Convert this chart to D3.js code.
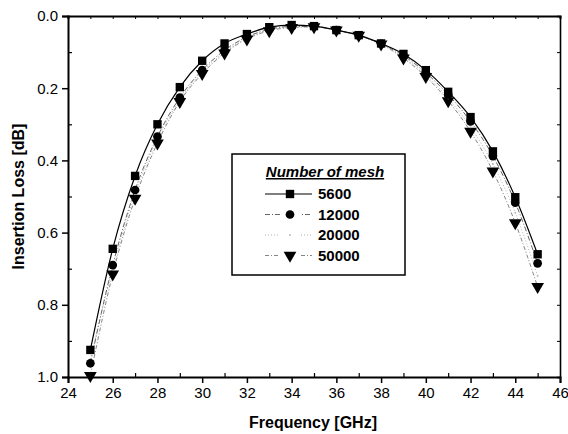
<!DOCTYPE html>
<html>
<head>
<meta charset="utf-8">
<script src="https://cdn.jsdelivr.net/npm/d3@7"></script>
<style>
  body { margin: 0; background: #fff; }
  text { font-family: Arial, "Liberation Sans", sans-serif; }
</style>
</head>
<body>
<div class="graphContainer"></div>
<script>
var width = 568;
var height = 434;

// data
var freq = [25, 26, 27, 28, 29, 30, 31, 32, 33, 34, 35, 36, 37, 38, 39, 40, 41, 42, 43, 44, 45];
var mesh5600 = [0.925, 0.645, 0.443, 0.300, 0.197, 0.124, 0.076, 0.050, 0.031, 0.025, 0.028, 0.039, 0.053, 0.076, 0.105, 0.150, 0.210, 0.280, 0.375, 0.502, 0.660];
var mesh12000 = [0.962, 0.690, 0.482, 0.334, 0.226, 0.150, 0.095, 0.058, 0.037, 0.029, 0.029, 0.039, 0.054, 0.077, 0.110, 0.157, 0.218, 0.292, 0.388, 0.517, 0.685];
var mesh20000 = [0.950, 0.700, 0.492, 0.342, 0.232, 0.155, 0.100, 0.061, 0.039, 0.031, 0.030, 0.039, 0.054, 0.078, 0.114, 0.163, 0.228, 0.308, 0.410, 0.545, 0.720];
var mesh50000 = [0.996, 0.715, 0.505, 0.352, 0.237, 0.160, 0.103, 0.064, 0.041, 0.032, 0.030, 0.039, 0.054, 0.078, 0.117, 0.168, 0.235, 0.320, 0.430, 0.573, 0.750];
var legendLabels = ["5600", "12000", "20000", "50000"];
var xTicks = [24, 26, 28, 30, 32, 34, 36, 38, 40, 42, 44, 46];
var yTicks = [0.0, 0.2, 0.4, 0.6, 0.8, 1.0];

var series = [
  { name: legendLabels[0], values: mesh5600, symbol: d3.symbolSquare, size: 70, color: "#000", dash: null, lineColor: "#000", lw: 1.2 },
  { name: legendLabels[1], values: mesh12000, symbol: d3.symbolCircle, size: 60, color: "#000", dash: "5,2,1,2", lineColor: "#555", lw: 0.9 },
  { name: legendLabels[2], values: mesh20000, symbol: d3.symbolCircle, size: 3, color: "#bbb", dash: "1,2", lineColor: "#aaa", lw: 0.9 },
  { name: legendLabels[3], values: mesh50000, symbol: d3.symbolTriangle, size: 70, color: "#000", dash: "4,2,1,2", lineColor: "#777", lw: 0.9, flip: true }
];

var svg = d3.select(".graphContainer")
  .append("svg")
  .attr("width", width)
  .attr("height", height);

var plotLeft = 68, plotRight = 560, plotTop = 16, plotBottom = 377;

var xScale = d3.scaleLinear().domain([24, 46]).range([plotLeft, plotRight]);
var yScale = d3.scaleLinear().domain([0, 1]).range([plotTop, plotBottom]);

// x axis
var xAxis = d3.axisBottom(xScale).tickValues(xTicks).tickFormat(d3.format("d")).tickSize(6).tickPadding(4);
var xg = svg.append("g").attr("transform", "translate(0," + plotBottom + ")").call(xAxis);
xg.select(".domain").attr("stroke-width", 2);
xg.selectAll(".tick line").attr("stroke-width", 1.5);
xg.selectAll("text").style("font-size", "15px").attr("fill", "#000");

var xMinor = d3.axisBottom(xScale).tickValues(d3.range(25, 46, 2)).tickFormat("").tickSize(-4);
var xm = svg.append("g").attr("transform", "translate(0," + plotBottom + ")").call(xMinor);
xm.select(".domain").remove();
xm.selectAll(".tick line").attr("stroke-width", 1.2);

// y axis
var yAxis = d3.axisLeft(yScale).tickValues(yTicks).tickFormat(d3.format(".1f")).tickSize(6).tickPadding(4);
var yg = svg.append("g").attr("transform", "translate(" + plotLeft + ",0)").call(yAxis);
yg.select(".domain").attr("stroke-width", 2);
yg.selectAll(".tick line").attr("stroke-width", 1.5);
yg.selectAll("text").style("font-size", "15px").attr("fill", "#000");

var yMinor = d3.axisLeft(yScale).tickValues(d3.range(0.1, 1, 0.2)).tickFormat("").tickSize(-4);
var ym = svg.append("g").attr("transform", "translate(" + plotLeft + ",0)").call(yMinor);
ym.select(".domain").remove();
ym.selectAll(".tick line").attr("stroke-width", 1.2);

// frame top and right
var topAxis = d3.axisTop(xScale).tickValues(d3.range(24, 47, 1)).tickFormat("").tickSize(-3);
var tg = svg.append("g").attr("transform", "translate(0," + plotTop + ")").call(topAxis);
tg.select(".domain").attr("stroke-width", 2);
tg.selectAll(".tick line").attr("stroke-width", 1);

var rightAxis = d3.axisRight(yScale).tickValues(d3.range(0, 1.01, 0.1)).tickFormat("").tickSize(-3);
var rg = svg.append("g").attr("transform", "translate(" + plotRight + ",0)").call(rightAxis);
rg.select(".domain").attr("stroke-width", 1.6);
rg.selectAll(".tick line").attr("stroke-width", 1);

// axis titles
svg.append("text")
  .attr("x", 313)
  .attr("y", 428)
  .attr("text-anchor", "middle")
  .style("font-size", "16px")
  .style("font-weight", "bold")
  .text("Frequency [GHz]");

svg.append("text")
  .attr("transform", "translate(24," + (plotTop + plotBottom) / 2 + ") rotate(-90)")
  .attr("text-anchor", "middle")
  .style("font-size", "16px")
  .style("font-weight", "bold")
  .text("Insertion Loss [dB]");

// curves
var line = d3.line()
  .x((d, i) => xScale(freq[i]))
  .y((d) => yScale(d))
  .curve(d3.curveMonotoneX);

var plot = svg.append("g");

series.slice().reverse().forEach(function (s) {
  plot.append("path")
    .datum(s.values)
    .attr("d", line)
    .attr("fill", "none")
    .attr("stroke", s.lineColor)
    .attr("stroke-width", s.lw)
    .attr("stroke-dasharray", s.dash);
});

series.slice().reverse().forEach(function (s) {
  plot.selectAll(null)
    .data(s.values)
    .enter()
    .append("path")
    .attr("d", d3.symbol().type(s.symbol).size(s.size))
    .attr("transform", (d, i) => "translate(" + xScale(freq[i]) + "," + yScale(d) + ")" + (s.flip ? " rotate(180)" : ""))
    .attr("fill", s.color);
});

// legend
var legend = svg.append("g").attr("id", "legend");
legend.append("rect")
  .attr("x", 232)
  .attr("y", 154)
  .attr("width", 173)
  .attr("height", 121)
  .attr("fill", "#fff")
  .attr("stroke", "#000")
  .attr("stroke-width", 1.5);

legend.append("text")
  .attr("x", 325)
  .attr("y", 177)
  .attr("text-anchor", "middle")
  .style("font-size", "15px")
  .style("font-weight", "bold")
  .style("font-style", "italic")
  .style("text-decoration", "underline")
  .text("Number of mesh");

series.forEach(function (s, i) {
  var ly = 194 + i * 20.5;
  legend.append("line")
    .attr("x1", 265).attr("x2", 312)
    .attr("y1", ly).attr("y2", ly)
    .attr("stroke", s.lineColor)
    .attr("stroke-width", s.lw)
    .attr("stroke-dasharray", s.dash);
  legend.append("rect")
    .attr("x", 280).attr("y", ly - 6)
    .attr("width", 20).attr("height", 12)
    .attr("fill", "#fff")
    .attr("opacity", s.dash ? 1 : 0);
  legend.append("path")
    .attr("d", d3.symbol().type(s.symbol).size(s.size))
    .attr("transform", "translate(290," + ly + ")" + (s.flip ? " rotate(180)" : ""))
    .attr("fill", s.color);
  legend.append("text")
    .attr("x", 318)
    .attr("y", ly)
    .attr("dy", "0.35em")
    .style("font-size", "15px")
    .style("font-weight", "bold")
    .text(s.name);
});
</script>
</body>
</html>
